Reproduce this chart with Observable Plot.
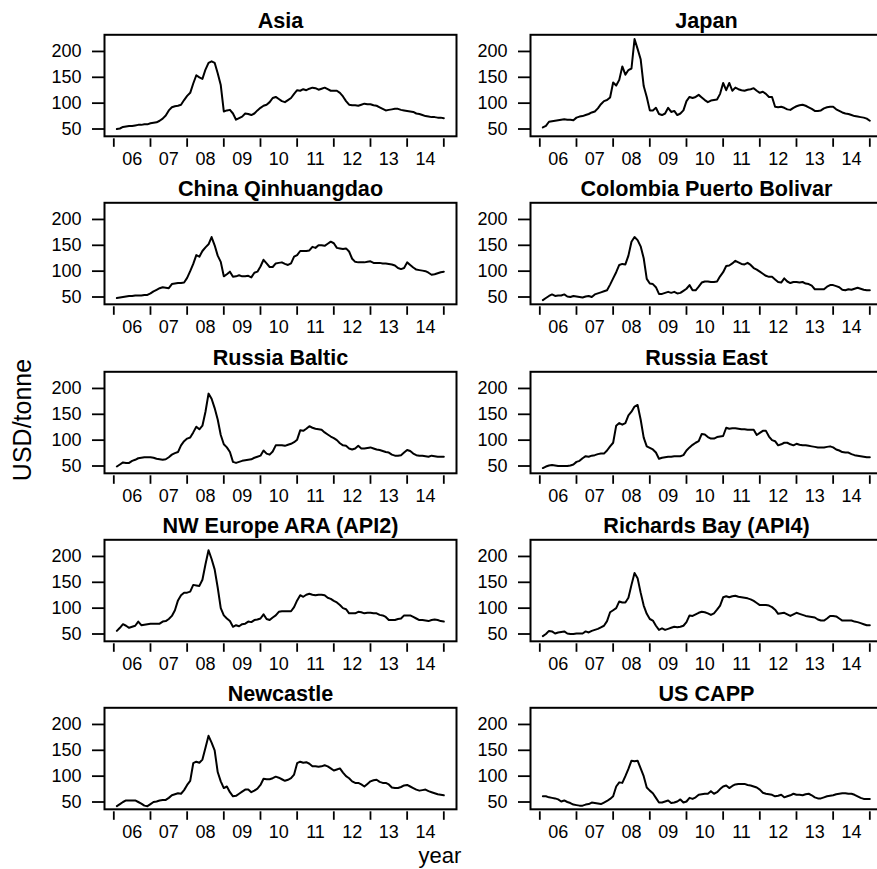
<!DOCTYPE html>
<html><head><meta charset="utf-8">
<script src="https://cdn.jsdelivr.net/npm/d3@7"></script>
<script src="https://cdn.jsdelivr.net/npm/@observablehq/plot@0.6"></script>
<style>
body{margin:0;background:#fff;color:#000;font-family:"Liberation Sans",Arial,Helvetica,sans-serif;}
#wrap{position:relative;width:877px;height:869px;overflow:hidden;background:#fff;}
.panel{position:absolute;}
.lab{position:absolute;line-height:1;white-space:nowrap;}
</style></head><body><div id="wrap"></div>
<script>
const regions = ["Asia", "Japan", "China Qinhuangdao", "Colombia Puerto Bolivar", "Russia Baltic",
  "Russia East", "NW Europe ARA (API2)", "Richards Bay (API4)", "Newcastle", "US CAPP"];

const asia = [
50,51,54,55,56,56,57,58,58,59,59,61,
62,63,66,70,76,86,92,94,95,97,106,114,
120,138,154,150,147,165,178,181,178,158,135,84,
86,87,80,68,71,74,80,79,77,80,86,91,
95,97,102,110,112,108,104,102,106,110,118,125,
124,127,125,128,130,129,126,128,130,127,124,124,
124,120,113,104,97,96,96,95,97,99,98,98,
96,95,92,89,86,87,88,89,89,87,86,85,
84,83,80,79,77,75,74,73,73,72,72,71];

const japan = [
53,56,64,65,66,67,68,69,68,68,67,72,
74,75,77,79,82,84,90,98,104,106,111,140,
134,145,171,155,164,167,224,205,185,133,112,86,
86,91,79,77,80,91,83,85,77,80,86,104,
112,110,112,116,111,106,102,105,106,107,118,139,
125,139,124,130,127,125,124,126,127,129,124,120,
122,118,112,112,93,92,93,91,88,87,91,94,
96,97,95,92,89,85,85,86,90,92,93,93,
88,85,82,80,79,77,75,74,73,72,70,66];

const china = [
48,49,50,51,52,52,53,53,53,54,54,57,
61,64,67,69,68,67,75,76,77,77,78,87,
100,114,131,128,139,146,152,166,150,130,118,90,
94,99,89,90,92,90,90,91,88,97,99,109,
122,115,108,108,115,116,117,114,112,115,128,131,
139,139,139,140,147,145,150,150,149,153,157,154,
145,144,143,144,138,124,118,117,117,117,118,119,
116,116,116,115,115,114,113,111,106,104,106,117,
112,107,103,102,101,100,97,93,94,96,98,99];

const colombia = [
44,48,52,55,52,53,53,55,51,50,52,51,
50,49,51,52,50,55,57,59,61,63,74,86,
98,112,114,113,130,157,166,160,148,125,85,76,
75,69,56,56,58,60,58,60,57,58,62,66,
73,63,63,70,78,80,80,79,79,80,90,98,
110,111,115,120,117,114,113,116,112,106,103,99,
95,91,89,89,84,79,78,86,80,77,79,79,
78,79,76,75,72,65,65,65,65,70,73,73,
71,69,64,63,65,64,66,68,66,64,63,63];

const russiaBaltic = [
49,53,57,56,56,60,62,65,66,67,67,67,
66,64,63,62,63,67,72,75,77,90,98,103,
105,115,126,121,128,155,190,180,162,140,110,92,
86,77,58,56,58,60,61,62,63,66,68,70,
80,74,72,78,90,90,90,89,91,93,96,101,
119,118,122,127,124,122,121,120,115,111,107,104,
100,94,90,89,84,82,84,89,84,84,85,86,
84,82,81,79,77,76,72,70,70,71,76,81,
79,74,71,70,70,69,68,70,69,68,68,68];

const russiaEast = [
46,49,51,52,51,50,50,50,50,51,53,58,
60,65,69,68,70,71,73,74,74,80,88,95,
128,133,130,133,148,155,165,168,140,105,88,85,
82,76,64,66,67,68,68,69,69,69,71,80,
86,91,95,98,112,111,106,103,103,106,107,108,
124,122,123,123,122,121,121,120,120,120,110,114,
118,118,107,100,98,90,92,95,95,92,90,93,
91,90,90,89,88,87,86,86,86,87,88,86,
82,80,77,76,76,73,71,70,69,68,67,67];

const nwEurope = [
56,62,69,66,62,64,66,74,67,68,69,70,
70,70,70,74,75,79,85,96,115,125,130,130,
132,145,144,143,155,185,212,195,175,140,100,86,
80,75,64,67,65,69,70,74,73,77,78,80,
88,79,77,82,86,93,94,94,94,94,102,115,
125,122,126,128,126,125,126,126,125,120,118,114,
111,106,100,98,90,90,90,93,92,90,91,91,
90,90,87,86,83,77,77,77,79,80,86,86,
86,83,80,77,77,76,75,77,78,77,75,74];

const richardsBay = [
46,50,56,55,51,53,54,55,51,50,50,51,
51,51,55,53,56,58,60,63,66,75,92,96,
100,113,111,111,120,145,168,158,130,105,89,79,
76,66,58,61,58,60,62,64,63,64,66,73,
86,85,88,91,93,92,90,87,90,97,105,121,
123,121,123,124,122,121,120,119,117,114,110,106,
106,106,105,102,97,89,90,91,88,85,88,91,
89,87,85,84,83,82,78,76,76,80,85,85,
84,80,76,76,76,76,74,73,71,69,67,67];

const newcastle = [
42,46,50,53,53,53,53,50,47,43,42,46,
50,51,53,54,54,58,63,65,67,66,73,83,
91,125,128,126,132,155,178,165,150,108,90,77,
80,69,61,62,66,70,74,74,69,72,76,83,
95,94,94,96,99,97,94,91,93,96,103,125,
128,126,127,124,119,119,118,119,121,119,115,111,
113,115,107,100,96,90,87,87,84,80,85,90,
92,93,89,87,87,84,78,77,77,79,82,83,
80,77,74,72,73,74,71,69,67,65,64,63];

const usCapp = [
61,61,59,58,57,55,51,53,50,48,45,44,
43,43,45,46,49,48,47,46,49,52,56,61,
80,88,87,100,114,130,129,130,115,100,78,72,
67,58,49,49,51,53,48,49,51,55,49,51,
58,56,59,64,65,66,66,71,66,69,75,80,
82,77,81,84,85,85,85,83,82,80,78,74,
68,66,65,64,61,62,64,59,61,63,66,64,
64,63,65,66,63,59,57,57,59,61,62,63,
65,66,67,67,66,66,64,61,58,56,56,56];

const series = [asia, japan, china, colombia, russiaBaltic, russiaEast, nwEurope, richardsBay, newcastle, usCapp];
const firstYear = 2006;
const yTicks = [50, 100, 150, 200];
const yearTicks = [2006, 2007, 2008, 2009, 2010, 2011, 2012, 2013, 2014, 2015];
const yearLabels = ["06", "07", "08", "09", "10", "11", "12", "13", "14"];
const yLabel = "USD/tonne";
const xLabel = "year";

const font = '"Liberation Sans", Arial, Helvetica, sans-serif';
const wrap = document.getElementById("wrap");
const panelW = 476, panelH = 168, mTop = 34.3, mBottom = 32.2, mLeft = 104, mRight = 20;
const frameH = panelH - mTop - mBottom;

regions.forEach((name, k) => {
  const values = series[k];
  const data = values.map((v, i) => ({date: firstYear + (i + 1) / 12, value: v}));
  const col = k % 2, row = Math.floor(k / 2);
  const chart = Plot.plot({
    width: panelW, height: panelH,
    marginLeft: mLeft, marginRight: mRight, marginTop: mTop, marginBottom: mBottom,
    style: {background: "transparent", maxWidth: "none", overflow: "visible", fontFamily: font, color: "black"},
    x: {domain: [2005.746, 2015.346], axis: null},
    y: {domain: [35.9, 232.2]},
    marks: [
      Plot.frame({stroke: "black", strokeWidth: 2}),
      Plot.axisY({ticks: yTicks, tickSize: 12, tickPadding: 11, fontSize: 18, strokeWidth: 1.8, label: null}),
      Plot.ruleX(yearTicks, {x: d => d, insetTop: frameH + 2.5, insetBottom: -11, stroke: "black", strokeWidth: 1.8}),
      Plot.text(yearLabels, {x: (d, i) => yearTicks[i] + 0.5, text: d => d, frameAnchor: "bottom", lineAnchor: "middle", dy: 23, fontSize: 18, fill: "black"}),
      Plot.text([name], {frameAnchor: "top", lineAnchor: "middle", dy: -14, text: d => d, fontSize: 21.6, fontWeight: "bold", fill: "black"}),
      Plot.line(data, {x: "date", y: "value", stroke: "black", strokeWidth: 2})
    ]
  });
  const div = document.createElement("div");
  div.className = "panel";
  div.style.left = (col * 426) + "px";
  div.style.top = (row * 168.25) + "px";
  div.appendChild(chart);
  wrap.appendChild(div);
});

const yl = document.createElement("div");
yl.className = "lab";
yl.textContent = yLabel;
yl.style.fontSize = "25px";
yl.style.left = "22px";
yl.style.top = "420px";
yl.style.transform = "translate(-50%,-50%) rotate(-90deg)";
wrap.appendChild(yl);

const xl = document.createElement("div");
xl.className = "lab";
xl.textContent = xLabel;
xl.style.fontSize = "22px";
xl.style.left = "440px";
xl.style.top = "856px";
xl.style.transform = "translate(-50%,-50%)";
wrap.appendChild(xl);
</script>
</body></html>
